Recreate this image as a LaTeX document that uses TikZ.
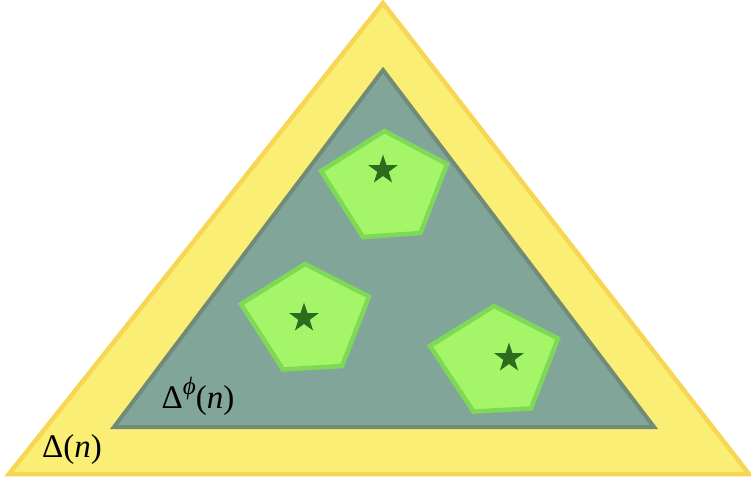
\documentclass[tikz,border=0pt]{standalone}
\usepackage{fontspec}
\setmainfont{Liberation Serif}
\usepackage{tikz}
\usetikzlibrary{
  positioning,
  shapes.geometric
}
\usepackage{xcolor}
\definecolor{simplex}{RGB}{251,238,116}
\definecolor{simplexline}{RGB}{247,214,84}
\definecolor{feasible}{RGB}{130,165,154}
\definecolor{feasibleline}{RGB}{114,139,120}
\definecolor{cell}{RGB}{165,245,105}
\definecolor{cellline}{RGB}{126,217,87}
\definecolor{point}{RGB}{45,107,30}

\begin{document}
\begin{tikzpicture}[
  x=1pt, y=-1pt,
  outer/.style={fill=simplex, draw=simplexline, line width=4.5pt, line join=miter},
  inner/.style={fill=feasible, draw=feasibleline, line width=4pt, line join=miter},
  region/.style={fill=cell, draw=cellline, line width=4.5pt, line join=miter},
  seed/.style={star, star points=5, star point ratio=2.6, minimum size=31pt,
               inner sep=0pt, fill=point},
  lab/.style={font=\fontsize{33}{36}\selectfont, inner sep=0pt}
]
\useasboundingbox (0,0) rectangle (751,480);

% Simplex and its feasible part
\draw[outer] (383,3) -- (749,474) -- (9,474) -- cycle;
\draw[inner] (383,70) -- (654,427) -- (114,427) -- cycle;

% Regions
\draw[region] (384.5,131) -- (447,164) -- (420.5,233) -- (363,237) -- (321,171) -- cycle;
\draw[region] (305,264) -- (369,296.5) -- (342,366) -- (283,369.5) -- (241,304) -- cycle;
\draw[region] (494,306) -- (558,338.5) -- (531,408.5) -- (473.5,411.5) -- (430,346) -- cycle;

% Points
\node[seed] (s1) at (383,170) {};
\node[seed] (s2) at (304,318) {};
\node[seed] (s3) at (509,358) {};

% Labels
\node[lab] (dphi) at (198,396) {Δ\raisebox{0.42em}{\fontsize{25}{27}\selectfont\itshape ϕ}(\textit{n})};
\node[lab] (d) at (72,450) {Δ(\textit{n})};

\end{tikzpicture}
\end{document}
